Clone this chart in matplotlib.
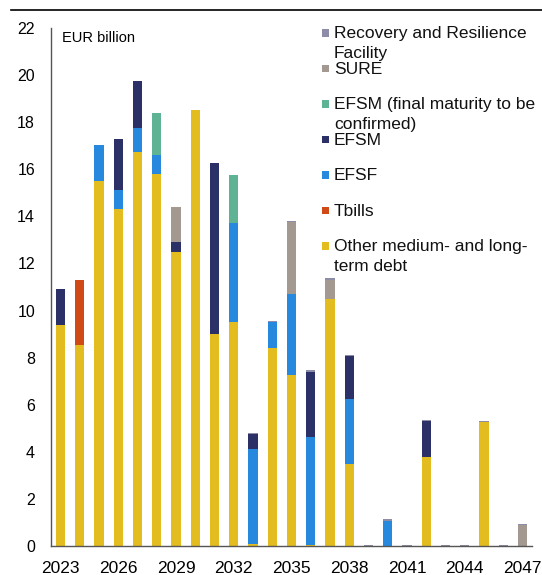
import matplotlib
matplotlib.use('Agg')
import matplotlib.pyplot as plt
from matplotlib.patches import Rectangle
from matplotlib.lines import Line2D
import numpy as np

plt.rcParams['font.family'] = ['Liberation Sans', 'DejaVu Sans']

# redemption profile, EUR billion, 2023-2047
years = list(range(2023, 2048))
other = [9.4, 8.55, 15.5, 14.3, 16.75, 15.8, 12.5, 18.5, 9.0, 9.5, 0.08, 8.4, 7.25,
         0.05, 10.5, 3.5, 0, 0, 0, 3.8, 0, 0, 5.25, 0, 0]
tbills = [0, 2.75, 0, 0, 0, 0, 0, 0, 0, 0, 0, 0, 0,
          0, 0, 0, 0, 0, 0, 0, 0, 0, 0, 0, 0]
efsf = [0, 0, 1.55, 0.8, 1.0, 0.8, 0, 0, 0, 4.2, 4.06, 1.1, 3.45,
        4.6, 0, 2.75, 0, 1.08, 0, 0, 0, 0, 0, 0, 0]
efsm = [1.5, 0, 0, 2.2, 2.0, 0, 0.4, 0, 7.25, 0, 0.62, 0, 0,
        2.75, 0, 1.8, 0, 0, 0, 1.5, 0, 0, 0, 0, 0]
efsm_tbc = [0, 0, 0, 0, 0, 1.8, 0, 0, 0, 2.05, 0, 0, 0,
            0, 0, 0, 0, 0, 0, 0, 0, 0, 0, 0, 0]
sure = [0, 0, 0, 0, 0, 0, 1.5, 0, 0, 0, 0, 0, 3.05,
        0, 0.8, 0, 0, 0, 0, 0, 0, 0, 0, 0, 0.9]
rrf = [0, 0, 0, 0, 0, 0, 0, 0, 0, 0, 0.05, 0.05, 0.05,
       0.07, 0.08, 0.07, 0.06, 0.07, 0.06, 0.06, 0.06, 0.06, 0.06, 0.06, 0.05]

# bottom -> top
series = [
    (other, 'Other medium- and long-\nterm debt', '#E3BD20'),
    (tbills, 'Tbills', '#D04A17'),
    (efsf, 'EFSF', '#2689DD'),
    (efsm, 'EFSM', '#2B3166'),
    (efsm_tbc, 'EFSM (final maturity to be\nconfirmed)', '#5FB395'),
    (sure, 'SURE', '#A39990'),
    (rrf, 'Recovery and Resilience\nFacility', '#8E8DA8'),
]

W, H = 542, 575
fig = plt.figure(figsize=(W / 100, H / 100), dpi=100)
ax = fig.add_axes([51 / W, 29 / H, (532 - 51) / W, (547 - 29) / H])

x = np.arange(len(years))
bottom = np.zeros(len(years))
for vals, label, color in series:
    vals = np.array(vals, dtype=float)
    ax.bar(x, vals, width=0.48, bottom=bottom, color=color, linewidth=0)
    bottom += vals

ax.set_xlim(-0.5, len(years) - 0.5)
ax.set_ylim(0, 22)
ax.set_yticks(range(0, 23, 2))
ax.set_xticks(x[::3])
ax.set_xticklabels([str(y) for y in years[::3]], fontsize=12.5)
ax.tick_params(axis='x', length=0, pad=10.5)
ax.tick_params(axis='y', length=0, pad=11.5, labelsize=11.5)
for s in ['top', 'right']:
    ax.spines[s].set_visible(False)
for s in ['left', 'bottom']:
    ax.spines[s].set_color('#555555')
    ax.spines[s].set_linewidth(1.0)

fig.text(62 / W, 1 - 42 / H, 'EUR billion', fontsize=10.5, va='baseline', ha='left')

# legend, drawn by hand so that two-line labels overlap like the original
for i, (vals, label, color) in enumerate(reversed(series)):
    cy = 32 + 35.5 * i
    fig.patches.append(Rectangle((321.5 / W, 1 - (cy + 4.75) / H), 7.5 / W, 7.5 / H,
                                 transform=fig.transFigure, facecolor=color,
                                 edgecolor='none'))
    for j, line in enumerate(label.split('\n')):
        fig.text(334 / W, 1 - (cy + 6 + 20 * j) / H, line, fontsize=12.5,
                 va='baseline', ha='left', color='#111111')

# rule under the (cropped) page title
fig.add_artist(Line2D([11 / W, 1], [1 - 9.5 / H] * 2, color='black', lw=1.2))

fig.savefig('out.png', dpi=100)
